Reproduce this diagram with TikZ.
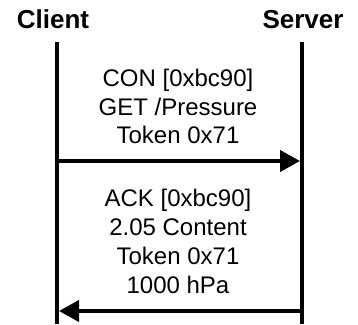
\documentclass[tikz,border=0pt]{standalone}
\usepackage{fontspec}
\setmainfont{Liberation Sans}
\usetikzlibrary{arrows.meta}
\begin{document}
\begin{tikzpicture}[x=1pt,y=1pt,
  actor/.style={font=\bfseries\fontsize{26}{31}\selectfont, anchor=base, inner sep=0pt},
  lifeline/.style={line width=4pt},
  msgline/.style={line width=4pt, -{Triangle[length=20pt,width=21pt]}},
  msgtext/.style={font=\fontsize{24}{28.8}\selectfont, align=center, anchor=base, inner sep=0pt}]
\useasboundingbox (0,0) rectangle (358,324);
% participants
\node[actor] (client) at (53,295) {Client};
\node[actor] (server) at (303,295) {Server};
% lifelines
\coordinate (ctop) at (57,282);
\coordinate (cbot) at (57,0);
\coordinate (stop) at (302,282);
\coordinate (sbot) at (302,0);
\draw[lifeline] (ctop) -- (cbot);
\draw[lifeline] (stop) -- (sbot);
% request (base anchor sits on the last line)
\coordinate (req-from) at (57,163);
\coordinate (req-to) at (300,163);
\node[msgtext] (req) at (178,180) {CON [0xbc90]\\GET /Pressure\\Token 0x71};
\draw[msgline] (req-from) -- (req-to);
% response
\coordinate (res-from) at (302,13);
\coordinate (res-to) at (59,13);
\node[msgtext] (res) at (178,31) {ACK [0xbc90]\\2.05 Content\\Token 0x71\\1000 hPa};
\draw[msgline] (res-from) -- (res-to);
\end{tikzpicture}
\end{document}
